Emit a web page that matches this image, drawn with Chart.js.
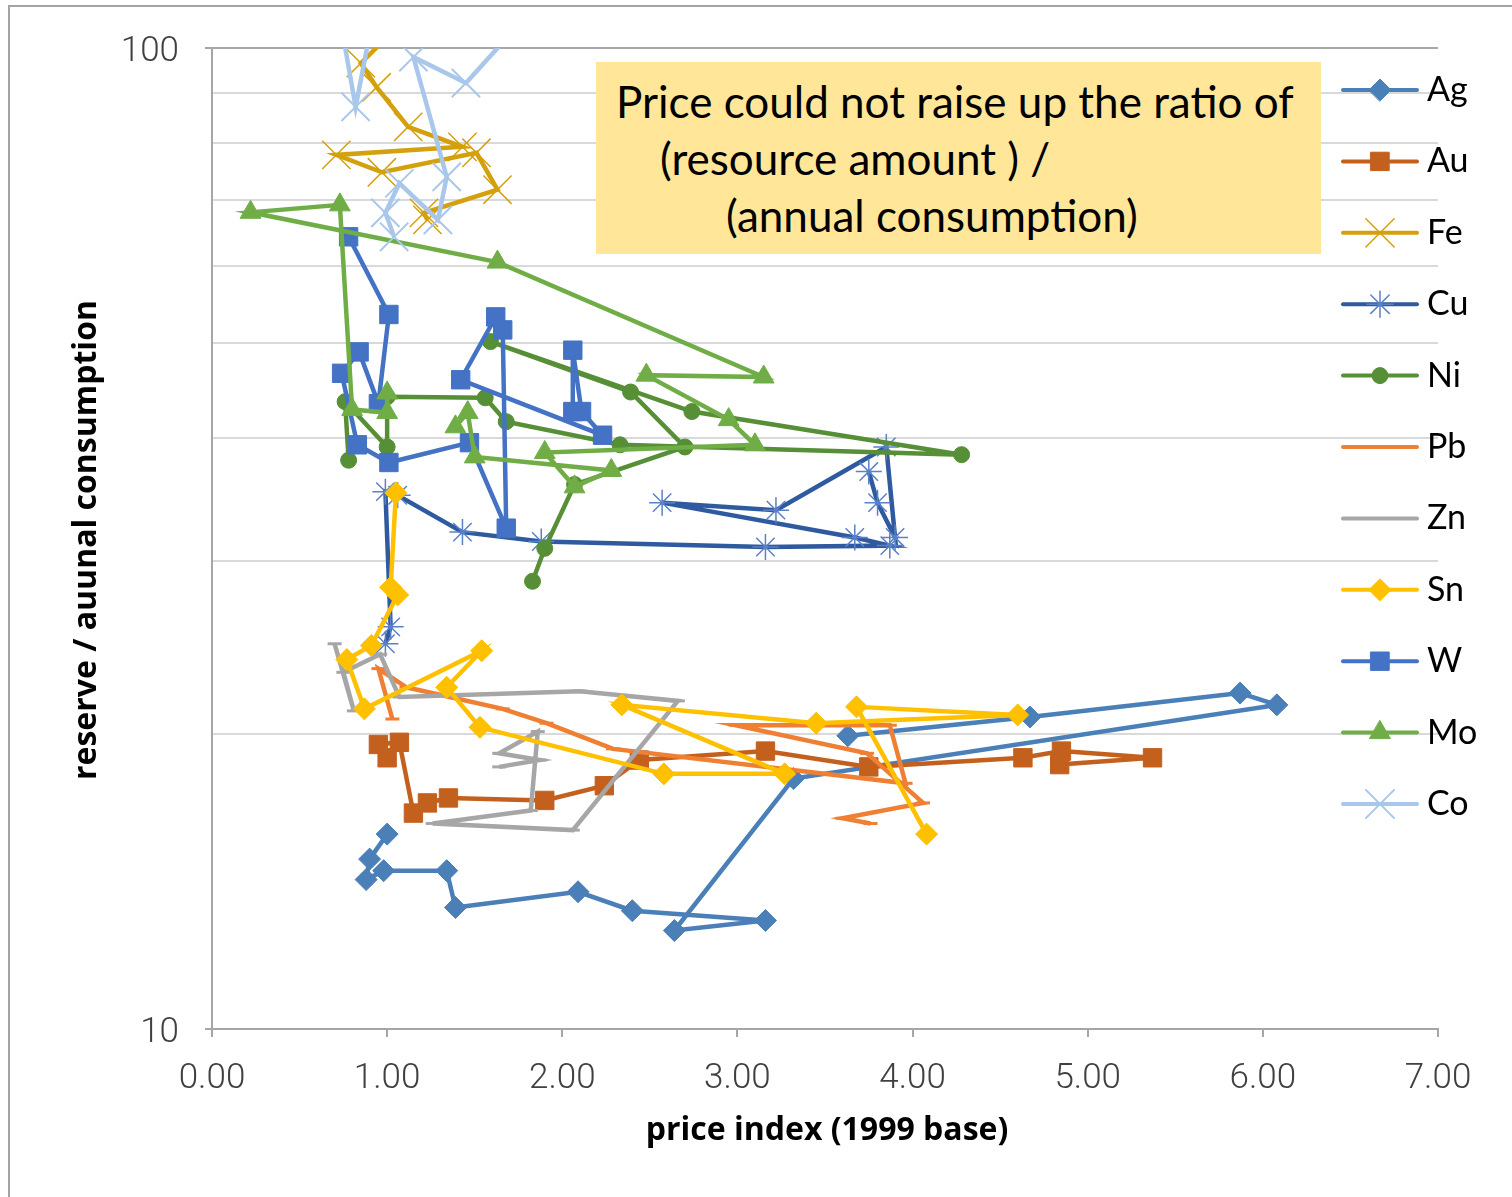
<!DOCTYPE html>
<html>

<head>
  <title>Reserve ratio vs price index</title>
  <script src="https://cdn.jsdelivr.net/npm/chart.js@4/dist/chart.umd.min.js"></script>
  <style>
    body {
      margin: 0;
      background: #fff;
    }

    #wrap {
      position: relative;
      width: 1512px;
      height: 1197px;
      overflow: hidden;
    }

    #frame {
      position: absolute;
      left: 8px;
      top: 5px;
      width: 1600px;
      height: 1300px;
      border: 2px solid #a3a3a3;
    }

    canvas {
      position: absolute;
      left: 0;
      top: 0;
    }

    #note {
      position: absolute;
      left: 596px;
      top: 62px;
      width: 725px;
      height: 192px;
      background: #ffe699;
      font-family: Lato, sans-serif;
      font-size: 44px;
      line-height: 44px;
      color: #000;
    }

    #note div {
      position: absolute;
      white-space: nowrap;
    }
  </style>
</head>

<body>
  <div id="wrap">
    <div id="frame"></div>
    <canvas id="chart" width="1512" height="1197"></canvas>
    <div id="note">
      <div style="left:20px; top:17px;">Price could not raise up the ratio of</div>
      <div style="left:64px; top:74px;">(resource amount ) /</div>
      <div style="left:130px; top:131px;">(annual consumption)</div>
    </div>
  </div>

  <script>
    // price index (1999 base) and reserve / annual consumption
    const agX = [1.00, 0.90, 0.88, 0.98, 1.34, 1.39, 2.09, 2.40, 3.16, 2.64, 3.32, 6.08, 5.87, 4.67, 3.63];
    const agY = [15.8, 14.9, 14.2, 14.5, 14.5, 13.3, 13.8, 13.2, 12.9, 12.6, 18.0, 21.4, 22.0, 20.8, 19.9];

    const auX = [1.00, 0.95, 1.07, 1.15, 1.23, 1.35, 1.90, 2.24, 2.44, 3.16, 3.75, 4.63, 4.85, 5.37, 4.84];
    const auY = [18.9, 19.5, 19.6, 16.6, 17.0, 17.2, 17.1, 17.7, 18.8, 19.2, 18.5, 18.9, 19.2, 18.9, 18.6];

    const feX = [1.17, 0.85, 0.94, 1.12, 1.43, 0.71, 0.97, 1.51, 1.63, 1.21, 1.23];
    const feY = [110, 96.5, 91.2, 83.1, 79.3, 77.8, 74.7, 78.2, 71.7, 67.9, 66.8];

    const cuX = [0.99, 1.02, 0.99, 1.06, 1.43, 1.88, 3.16, 3.87, 3.67, 2.57, 3.22, 3.85, 3.90, 3.80, 3.75];
    const cuY = [24.7, 25.7, 35.3, 35.0, 32.1, 31.4, 31.0, 31.1, 31.7, 34.4, 33.8, 39.2, 31.7, 34.4, 37.0];

    const niX = [0.78, 0.76, 1.00, 1.00, 1.56, 1.68, 2.33, 4.28, 2.74, 1.59, 2.39, 2.70, 2.07, 1.90, 1.83];
    const niY = [38.0, 43.6, 39.2, 44.1, 44.0, 41.6, 39.4, 38.5, 42.6, 50.2, 44.6, 39.2, 35.9, 30.9, 28.6];

    const pbX = [1.03, 0.95, 1.11, 1.66, 1.91, 2.29, 3.96, 3.87, 2.99, 3.74, 4.06, 3.60, 3.76];
    const pbY = [20.7, 23.3, 22.3, 21.2, 20.5, 19.3, 17.8, 20.4, 20.4, 19.1, 17.0, 16.4, 16.2];

    const znX = [0.70, 0.81, 0.75, 0.96, 1.07, 2.10, 2.66, 2.06, 1.26, 1.82, 1.86, 1.64, 1.87, 1.64];
    const znY = [24.7, 21.1, 23.1, 24.1, 21.8, 22.1, 21.6, 15.95, 16.2, 16.7, 20.1, 19.1, 18.8, 18.5];

    const snX = [1.05, 1.02, 1.06, 0.91, 0.77, 0.87, 1.54, 1.34, 1.53, 2.58, 3.27, 2.34, 3.45, 4.60, 3.68, 4.08];
    const snY = [35.2, 28.2, 27.7, 24.6, 23.8, 21.2, 24.3, 22.3, 20.3, 18.2, 18.2, 21.4, 20.5, 20.9, 21.3, 15.8];

    const wX = [0.78, 1.01, 0.95, 0.84, 0.74, 0.83, 1.01, 1.47, 1.68, 1.66, 1.62, 1.42, 2.23, 2.11, 2.06, 2.06];
    const wY = [64.2, 53.5, 43.4, 49.0, 46.6, 39.4, 37.8, 39.6, 32.4, 51.6, 53.2, 45.9, 40.3, 42.6, 49.2, 42.6];

    const moX = [1.00, 1.00, 0.80, 0.73, 0.22, 1.63, 3.15, 2.48, 2.95, 3.10, 1.90, 2.07, 2.28, 1.50, 1.46, 1.39];
    const moY = [44.5, 42.5, 42.8, 69.2, 68.0, 60.5, 46.2, 46.4, 41.8, 39.4, 38.7, 35.7, 37.1, 38.3, 42.5, 41.1];

    const coX = [0.72, 0.82, 0.93, 1.84, 1.45, 1.15, 1.34, 1.29, 1.07, 0.99, 1.04];
    const coY = [110, 87.1, 110, 110, 92.1, 97.9, 73.9, 66.8, 72.8, 67.9, 64.2];

    const xTicks = [0, 1, 2, 3, 4, 5, 6, 7];
    const yTicks = [10, 20, 30, 40, 50, 60, 70, 80, 90, 100];
    const xTitle = 'price index (1999 base)';
    const yTitle = 'reserve / auunal consumption';

    const series = (label, xs, ys, color, shape, r, markerWidth, markerColor, legendMarker) => ({
      label: label,
      data: xs.map((x, i) => ({ x: x, y: ys[i] })),
      showLine: true,
      tension: 0,
      borderColor: color,
      backgroundColor: color,
      borderWidth: 4.5,
      pointStyle: shape,
      pointRadius: r,
      pointBackgroundColor: markerColor || color,
      pointBorderColor: markerColor || color,
      pointBorderWidth: markerWidth,
      legendMarker: legendMarker,
    });

    const datasets = [
      series('Ag', agX, agY, '#4a7fb8', 'rectRot', 11, 1, null, true),
      series('Au', auX, auY, '#c4601d', 'rect', 13, 1, null, true),
      series('Fe', feX, feY, '#d4a00c', 'crossRot', 20, 1.5, null, true),
      series('Cu', cuX, cuY, '#2f5aa0', 'star', 13, 1.5, '#5a80c8', true),
      series('Ni', niX, niY, '#568f36', 'circle', 8, 1, null, true),
      series('Pb', pbX, pbY, '#ee7f33', 'line', 7, 3, null, false),
      series('Zn', znX, znY, '#a6a6a6', 'line', 7, 3, null, false),
      series('Sn', snX, snY, '#ffc000', 'rectRot', 11, 1, null, true),
      series('W', wX, wY, '#4472c4', 'rect', 13, 1, null, true),
      series('Mo', moX, moY, '#70ad47', 'triangle', 12, 1, null, true),
      series('Co', coX, coY, '#a9c7ea', 'crossRot', 20, 2, null, true),
    ];
    // later series on top, like the spreadsheet
    datasets.forEach((ds, i) => { ds.order = -i; });

    // axis titles and the right hand legend (line with marker in the middle)
    const overlay = {
      id: 'overlay',
      afterDraw(chart) {
        const ctx = chart.ctx;
        ctx.save();
        ctx.fillStyle = '#000';
        ctx.font = 'bold 32px "Open Sans"';
        ctx.textAlign = 'center';
        ctx.textBaseline = 'middle';
        ctx.fillText(xTitle, 827, 1131);
        ctx.translate(87, 540);
        ctx.rotate(-Math.PI / 2);
        ctx.fillText(yTitle, 0, 0);
        ctx.restore();

        chart.data.datasets.forEach((ds, i) => {
          const y = 90 + i * 71.4;
          ctx.save();
          ctx.strokeStyle = ds.borderColor;
          ctx.lineWidth = 4;
          ctx.lineCap = 'round';
          ctx.beginPath();
          ctx.moveTo(1343, y);
          ctx.lineTo(1417, y);
          ctx.stroke();
          if (ds.legendMarker && Chart.helpers && Chart.helpers.drawPoint) {
            ctx.fillStyle = ds.pointBackgroundColor;
            ctx.strokeStyle = ds.pointBorderColor;
            ctx.lineWidth = ds.pointBorderWidth;
            Chart.helpers.drawPoint(ctx, {
              pointStyle: ds.pointStyle,
              radius: ds.pointRadius,
              borderWidth: ds.pointBorderWidth,
              rotation: 0
            }, 1380, y);
          }
          ctx.fillStyle = '#000';
          ctx.font = '34px Lato';
          ctx.textAlign = 'left';
          ctx.textBaseline = 'middle';
          ctx.fillText(ds.label, 1427, y);
          ctx.restore();
        });
      }
    };

    const labelled = v => v === 10 || v === 100;

    new Chart(document.getElementById('chart'), {
      type: 'scatter',
      data: { datasets: datasets },
      options: {
        responsive: false,
        animation: false,
        layout: { padding: { top: 48, right: 74, left: 0, bottom: 0 } },
        plugins: {
          legend: { display: false },
          tooltip: { enabled: false },
        },
        scales: {
          x: {
            type: 'linear',
            min: 0,
            max: 7,
            afterFit: s => { s.height = 168; },
            afterBuildTicks: s => { s.ticks = xTicks.map(v => ({ value: v })); },
            grid: {
              drawOnChartArea: false,
              tickLength: 8,
              tickColor: '#a6a6a6',
              lineWidth: 2,
            },
            border: { color: '#a6a6a6', width: 2 },
            ticks: {
              padding: 21,
              color: '#404040',
              font: { family: 'Roboto', weight: '300', size: 35 },
              callback: v => v.toFixed(2),
            },
          },
          y: {
            type: 'logarithmic',
            min: 10,
            max: 100,
            afterFit: s => { s.width = 212; },
            afterBuildTicks: s => { s.ticks = yTicks.map(v => ({ value: v })); },
            grid: {
              color: c => (c.tick && c.tick.value === 100) ? '#a6a6a6' : '#d9d9d9',
              lineWidth: 2,
              tickLength: 7,
              tickColor: c => (c.tick && labelled(c.tick.value)) ? '#a6a6a6' : 'rgba(0,0,0,0)',
            },
            border: { color: '#a6a6a6', width: 2 },
            ticks: {
              autoSkip: false,
              padding: 26,
              labelOffset: 4,
              color: '#404040',
              font: { family: 'Roboto', weight: '300', size: 35 },
              callback: v => labelled(v) ? String(v) : '',
            },
          },
        },
      },
      plugins: [overlay],
    });
  </script>
</body>

</html>
